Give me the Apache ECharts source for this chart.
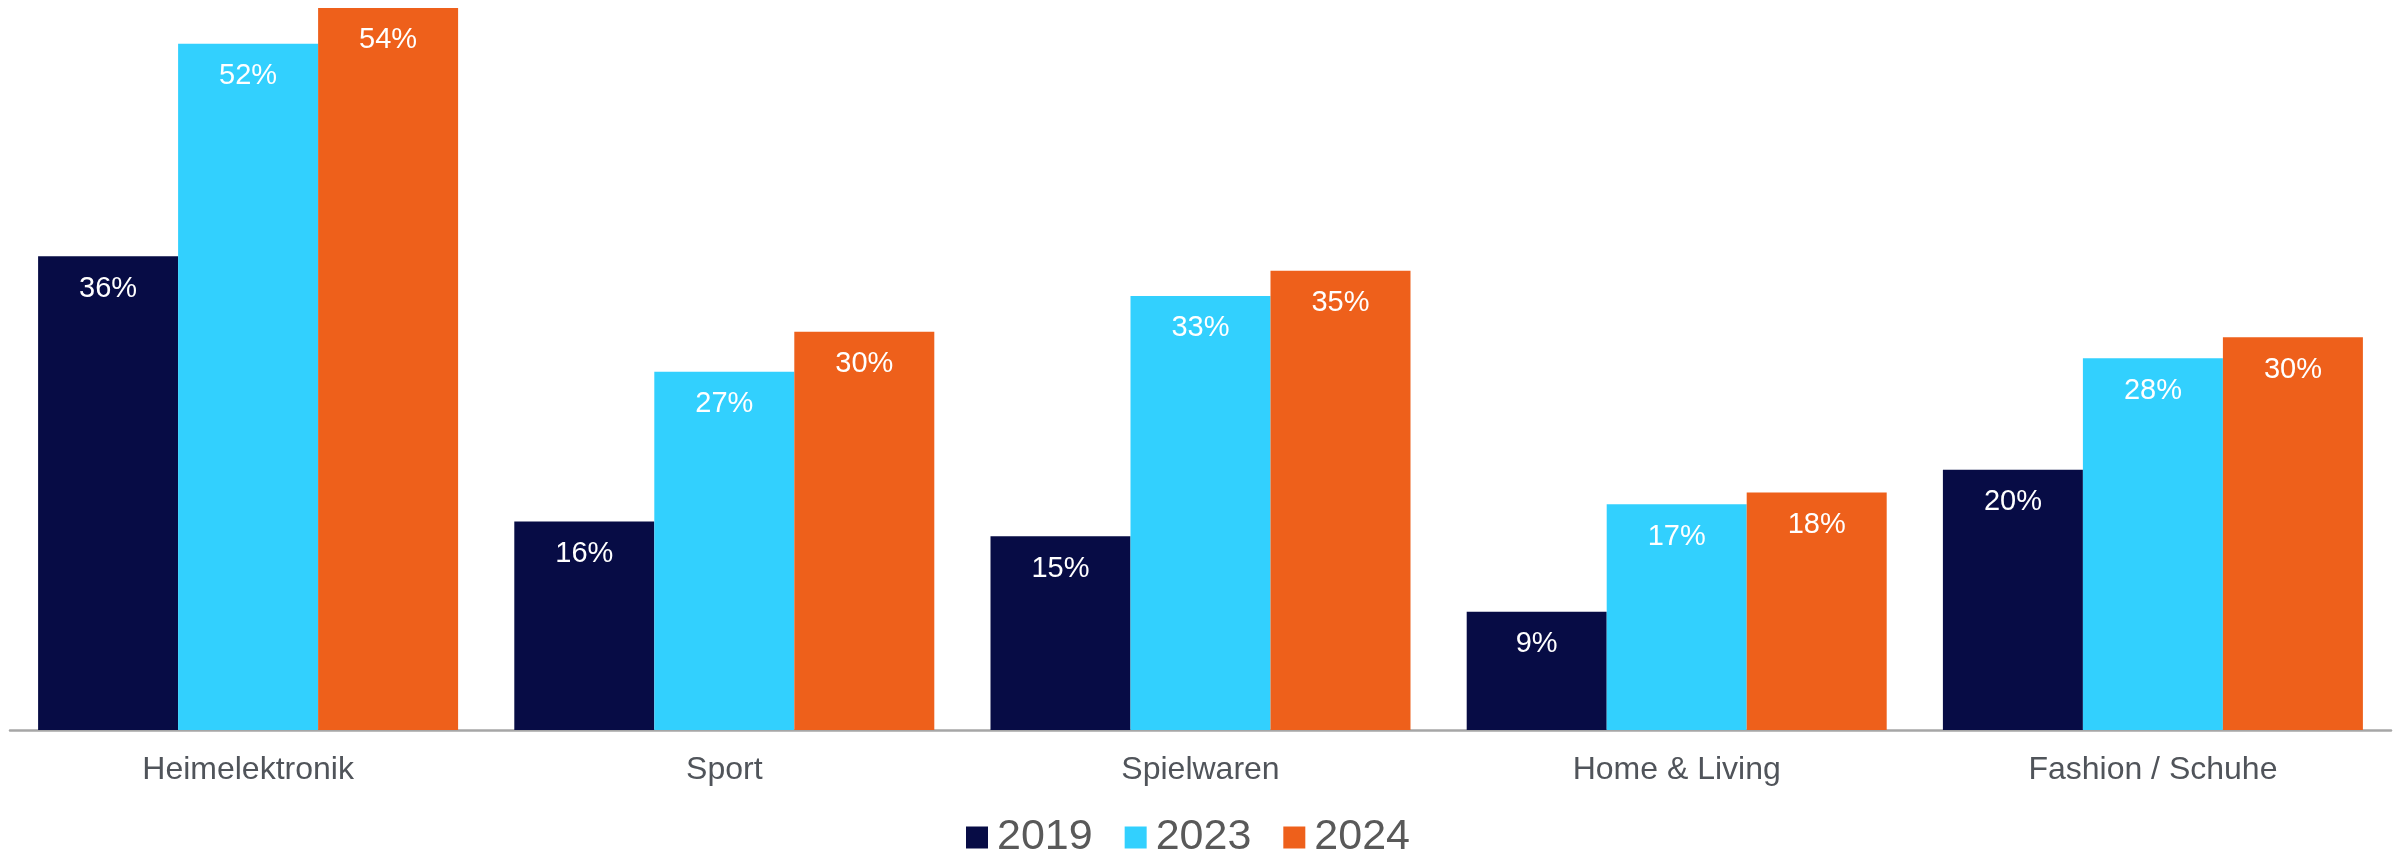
<!DOCTYPE html>
<html>
<head>
<meta charset="utf-8">
<script src="https://cdn.jsdelivr.net/npm/echarts@6/dist/echarts.min.js"></script>
<style>
  html, body { margin: 0; padding: 0; background: #ffffff; }
  #chart { width: 2404px; height: 861px; }
</style>
</head>
<body>
<div id="chart"></div>
<script>
const categories = ["Heimelektronik", "Sport", "Spielwaren", "Home & Living", "Fashion / Schuhe"]
const years = ["2019", "2023", "2024"]
const values2019 = [35.7, 15.7, 14.6, 8.9, 19.6]
const values2023 = [51.7, 27.0, 32.7, 17.0, 28.0]
const values2024 = [54.4, 30.0, 34.6, 17.9, 29.6]
const colors = ["#070c45", "#32d0fe", "#ee601b"]

const chart = echarts.init(document.getElementById("chart"))

const makeSeries = (name, data, color) => ({
  name: name,
  type: "bar",
  data: data,
  barWidth: 140,
  barGap: "0%",
  itemStyle: { color: color },
  label: {
    show: true,
    position: "insideTop",
    distance: 18,
    color: "#ffffff",
    fontSize: 29,
    fontFamily: "Liberation Sans",
    formatter: (p) => Math.round(p.value) + "%"
  }
})

const options = {
  animation: false,
  grid: {
    top: 0,
    bottom: 131,
    left: 10,
    right: 13
  },
  legend: {
    data: years,
    left: 966,
    top: 816,
    padding: 0,
    itemWidth: 22,
    itemHeight: 22,
    itemGap: 32,
    icon: "rect",
    textStyle: {
      fontSize: 43,
      color: "#595959",
      fontFamily: "Liberation Sans",
      padding: [0, 0, 0, 4]
    }
  },
  xAxis: {
    type: "category",
    data: categories,
    axisTick: { show: false },
    axisLine: {
      show: true,
      lineStyle: { color: "#a6a6a6", width: 2.5 }
    },
    axisLabel: {
      margin: 24,
      fontSize: 32,
      color: "#50545a",
      fontFamily: "Liberation Sans"
    }
  },
  yAxis: {
    type: "value",
    min: 0,
    max: 55,
    show: false,
    splitLine: { show: false }
  },
  series: [
    makeSeries(years[0], values2019, colors[0]),
    makeSeries(years[1], values2023, colors[1]),
    makeSeries(years[2], values2024, colors[2])
  ]
}

chart.setOption(options)
</script>
</body>
</html>
